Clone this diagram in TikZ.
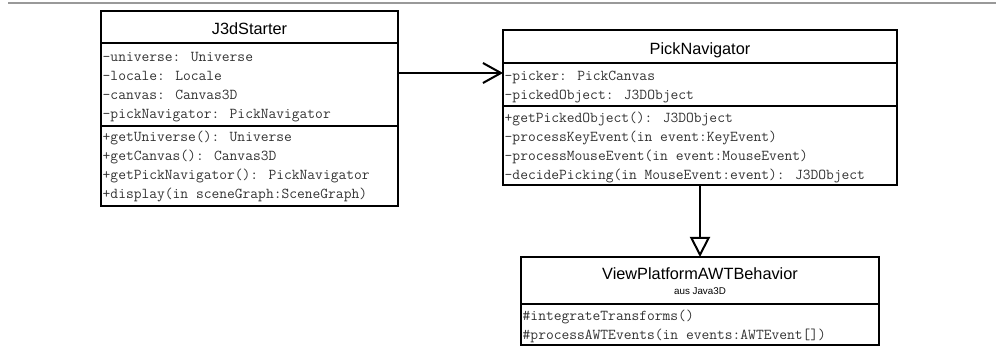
\documentclass[tikz,border=0pt]{standalone}
\usepackage{fontspec}
\setsansfont{Liberation Sans}
\usetikzlibrary{arrows.meta}
\begin{document}
\begin{tikzpicture}[x=1pt,y=-1pt,
  compart/.style={rectangle, draw, line width=2.2pt, inner sep=0pt, outer sep=0pt, anchor=north west},
  classname/.style={font=\sffamily\fontsize{16.3}{19}\selectfont, anchor=base, inner sep=0pt},
  classnote/.style={font=\sffamily\fontsize{9.8}{12}\selectfont, anchor=base, inner sep=0pt},
  member/.style={font=\ttfamily\fontsize{15.1}{19}\selectfont, text=black!80, anchor=base west, inner sep=0pt},
  assoc/.style={line width=2pt, -{Straight Barb[length=18pt,width=20pt,line width=2pt]}},
  inherit/.style={line width=2pt, -{Triangle[open,length=20pt,width=20pt,line width=2pt,fill=white]}}
]
\useasboundingbox (0,0) rectangle (996,347);

% rule along the top of the sheet
\draw[black!40, line width=1.1pt] (8,3) -- (996,3);

% ---- J3dStarter ----
\node[compart, minimum width=297pt, minimum height=32pt] (j3d-t) at (101,11) {};
\node[compart, minimum width=297pt, minimum height=83pt] (j3d-a) at (101,43) {};
\node[compart, minimum width=297pt, minimum height=80pt] (j3d-m) at (101,126) {};
\node[classname] (j3d-name) at (249.5,35) {J3dStarter};
\foreach \t [count=\i from 0] in {-universe: Universe,-locale: Locale,-canvas: Canvas3D,-pickNavigator: PickNavigator}
  \node[member] (j3d-a\i) at (102.5,62+19*\i) {\t};
\foreach \t [count=\i from 0] in {+getUniverse(): Universe,+getCanvas(): Canvas3D,+getPickNavigator(): PickNavigator,+display(in sceneGraph:SceneGraph)}
  \node[member] (j3d-m\i) at (102.5,142+19*\i) {\t};

% ---- PickNavigator ----
\node[compart, minimum width=394pt, minimum height=33pt] (pn-t) at (503,30) {};
\node[compart, minimum width=394pt, minimum height=43pt] (pn-a) at (503,63) {};
\node[compart, minimum width=394pt, minimum height=79pt] (pn-m) at (503,106) {};
\node[classname] (pn-name) at (700,54.3) {PickNavigator};
\foreach \t [count=\i from 0] in {-picker: PickCanvas,-pickedObject: J3DObject}
  \node[member] (pn-a\i) at (504.5,81+19*\i) {\t};
\foreach \t [count=\i from 0] in {+getPickedObject(): J3DObject,-processKeyEvent(in event:KeyEvent),-processMouseEvent(in event:MouseEvent),-decidePicking(in MouseEvent:event): J3DObject}
  \node[member] (pn-m\i) at (504.5,122.5+19*\i) {\t};

% ---- ViewPlatformAWTBehavior ----
\node[compart, minimum width=358pt, minimum height=47pt] (vp-t) at (521,257) {};
\node[compart, minimum width=358pt, minimum height=41pt] (vp-m) at (521,304) {};
\node[classname] (vp-name) at (700,280) {ViewPlatformAWTBehavior};
\node[classnote] (vp-note) at (700,295) {aus Java3D};
\node[member] (vp-m0) at (522.5,320.5) {\#integrateTransforms()};
\node[member] (vp-m1) at (522.5,339.5) {\#processAWTEvents(in events:AWTEvent[])};

% ---- relations ----
\draw[assoc] (j3d-a.east |- 0,73) -- (pn-a.west |- 0,73);
\draw[inherit] (pn-m.south) -- (vp-t.north);
\end{tikzpicture}
\end{document}
